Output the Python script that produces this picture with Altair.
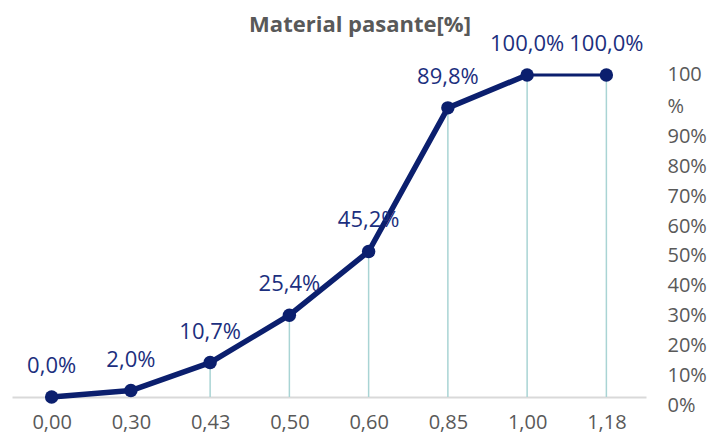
import altair as alt
import pandas as pd

sizes = ["0,00", "0,30", "0,43", "0,50", "0,60", "0,85", "1,00", "1,18"]
passing = [0.0, 2.0, 10.7, 25.4, 45.2, 89.8, 100.0, 100.0]
labels = ["0,0%", "2,0%", "10,7%", "25,4%", "45,2%", "89,8%", "100,0%", "100,0%"]
right_ticks = [0, 10, 20, 30, 40, 50, 60, 70, 80, 90, 100]
title_text = "Material pasante[%]"

FONT = "Open Sans"
NAVY = "#0B1F6E"
LABEL_NAVY = "#1C2F7E"
GRAY = "#595959"

df = pd.DataFrame({"size": sizes, "pct": passing, "label": labels, "idx": list(range(len(sizes)))})

xenc = alt.X(
    "size:N",
    sort=sizes,
    scale=alt.Scale(type="point", padding=0.5),
    axis=alt.Axis(
        title=None, orient="bottom", labelAngle=0, ticks=False, grid=False,
        domainColor="#D9D9D9", domainWidth=2, labelColor=GRAY, labelFontSize=20,
        labelFont=FONT, labelPadding=15,
    ),
)
yscale = alt.Scale(domain=[0, 100], nice=False, zero=True)
yenc = alt.Y("pct:Q", scale=yscale, axis=None)

base = alt.Chart(df)

drops = base.mark_rule(color="#A9D4D4", strokeWidth=1.5).encode(x=xenc, y=yenc, y2=alt.datum(0))
line_main = base.transform_filter("datum.idx <= 6").mark_line(
    color=NAVY, strokeWidth=5.5, strokeCap="round", strokeJoin="round"
).encode(x=xenc, y=yenc)
line_tail = base.transform_filter("datum.idx >= 6").mark_line(
    color=NAVY, strokeWidth=3
).encode(x=xenc, y=yenc)
points = base.mark_circle(size=180, opacity=1, color=NAVY).encode(x=xenc, y=yenc)
texts = base.mark_text(dy=-31, fontSize=22, font=FONT, color=LABEL_NAVY).encode(
    x=xenc, y=yenc, text="label:N"
)

right_df = pd.DataFrame({"tick": right_ticks})
right_axis = alt.Chart(right_df).mark_point(opacity=0).encode(
    y=alt.Y(
        "tick:Q",
        scale=alt.Scale(domain=[0, 108.05], nice=False),
        axis=alt.Axis(
            title=None, orient="right", values=right_ticks, domain=False, ticks=False,
            grid=False, labelPadding=21, labelAlign="left", labelColor=GRAY,
            labelFontSize=20, labelFont=FONT, labelLineHeight=32, labelOverlap=False,
            labelBound=False,
            labelOffset={"condition": {"test": "datum.value == 100", "value": -24}, "value": 8},
            labelExpr="datum.value == 100 ? ['100', '%'] : datum.value + '%'",
        ),
    )
)

chart = (
    alt.layer(drops, line_main, line_tail, points, texts, right_axis)
    .resolve_scale(y="independent")
    .properties(
        width=634,
        height=322,
        autosize=alt.AutoSizeParams(type="none"),
        padding={"left": 4, "top": 67, "right": 61, "bottom": 37},
        title=alt.TitleParams(
            title_text, fontSize=22, fontWeight="bold", color=GRAY, font=FONT,
            anchor="middle", dx=31, offset=-4,
        ),
    )
    .configure_view(stroke=None)
)

chart.save("out.html", embed_options={"renderer": "svg", "actions": False})
